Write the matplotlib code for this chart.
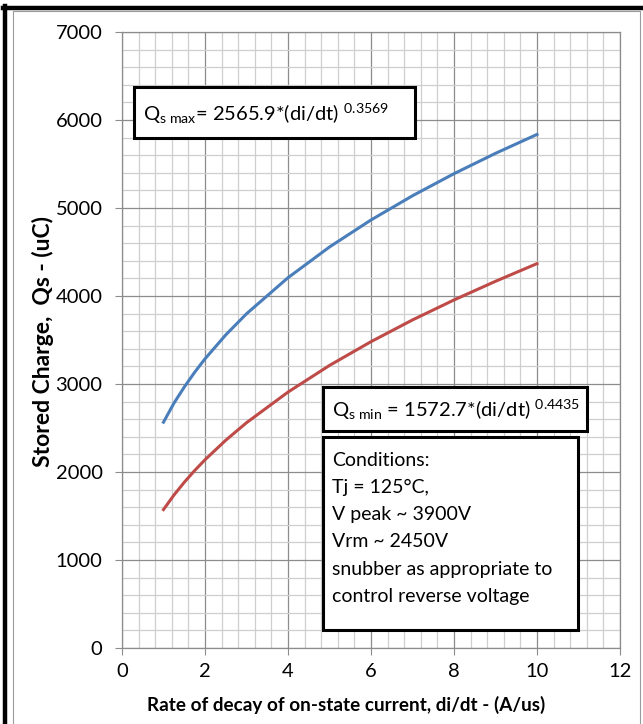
import matplotlib.pyplot as plt
from matplotlib.lines import Line2D
from matplotlib.patches import Rectangle
from matplotlib.ticker import MultipleLocator

plt.rcParams['font.family'] = ['Lato', 'DejaVu Sans']
plt.rcParams['mathtext.fontset'] = 'custom'
plt.rcParams['mathtext.rm'] = 'Lato'
plt.rcParams['mathtext.it'] = 'Lato'

# values
di_dt = [1, 1.25, 1.5, 1.75, 2, 2.5, 3, 4, 5, 6, 7, 8, 9, 10]
qs_max = [2566, 2781, 2965, 3133, 3286, 3558, 3798, 4208, 4557, 4864, 5139, 5390, 5621, 5836]
qs_min = [1573, 1737, 1883, 2016, 2139, 2361, 2560, 2908, 3211, 3481, 3728, 3955, 4167, 4368]

eq_max = r'Q$_{\mathrm{s\ max}}$= 2565.9*(di/dt) $^{0.3569}$'
eq_min = r'Q$_{\mathrm{s\ min}}$ = 1572.7*(di/dt) $^{0.4435}$'
conditions = ["Conditions:", "Tj = 125°C,", "V peak ~ 3900V", "Vrm ~ 2450V",
              "snubber as appropriate to", "control reverse voltage"]

fig = plt.figure(figsize=(6.43, 7.24), dpi=100)
W, H = 643, 724

# outer frame of the picture
fig.add_artist(Rectangle((13 / W, -0.05), (640 - 13) / W, 1.05 - 11 / H,
                         transform=fig.transFigure, fill=False,
                         edgecolor='#9a9a9a', lw=0.8))
fig.add_artist(Line2D([5 / W, 5 / W], [0, 1 - 6 / H], transform=fig.transFigure,
                      color='black', lw=3.2))
fig.add_artist(Line2D([3 / W, 1], [1 - 8 / H, 1 - 8 / H], transform=fig.transFigure,
                      color='black', lw=3.2))

ax = fig.add_axes([122 / W, 1 - 648 / H, (620 - 122) / W, (648 - 32) / H])

ax.plot(di_dt, qs_max, color='#4A7EBB', lw=2.2, zorder=3)
ax.plot(di_dt, qs_min, color='#BE4B48', lw=2.2, zorder=3)

ax.set_xlim(0, 12)
ax.set_ylim(0, 7000)
ax.xaxis.set_major_locator(MultipleLocator(2))
ax.xaxis.set_minor_locator(MultipleLocator(0.4))
ax.yaxis.set_major_locator(MultipleLocator(1000))
ax.yaxis.set_minor_locator(MultipleLocator(200))
ax.grid(which='major', color='#8c8c8c', lw=0.9)
ax.grid(which='minor', color='#cfcfcf', lw=0.9)
ax.set_axisbelow(True)
for s in ax.spines.values():
    s.set_color('#8c8c8c')
    s.set_linewidth(0.9)
ax.tick_params(which='major', length=5, color='#8c8c8c', labelsize=14.5)
ax.tick_params(which='minor', length=0)
ax.tick_params(axis='y', pad=9)
ax.tick_params(axis='x', pad=6)

ax.set_xlabel('Rate of decay of on-state current, di/dt - (A/us)',
              fontsize=13.6, fontweight='bold')
ax.set_ylabel('Stored Charge,  Qs - (uC)', fontsize=16.5, fontweight='bold')
ax.xaxis.set_label_coords(0.45, -0.092)
ax.yaxis.set_label_coords(-0.158, 0.497)
ax.xaxis.label.set_va('center')
ax.yaxis.label.set_va('center')

# equation and condition boxes
for (x0, y0, x1, y1) in [(0.024, 0.828, 0.588, 0.911),
                         (0.404, 0.352, 0.933, 0.424),
                         (0.404, 0.029, 0.915, 0.343)]:
    ax.add_patch(Rectangle((x0, y0), x1 - x0, y1 - y0, transform=ax.transAxes,
                           facecolor='white', edgecolor='black', lw=2.2,
                           zorder=4, clip_on=False))

ax.text(0.042, 0.867, eq_max, transform=ax.transAxes, fontsize=14.5,
        va='center', ha='left', zorder=5)
ax.text(0.422, 0.386, eq_min, transform=ax.transAxes, fontsize=14.5,
        va='center', ha='left', zorder=5)
ax.text(0.422, 0.318, '\n'.join(conditions), transform=ax.transAxes,
        fontsize=14, va='top', ha='left', linespacing=1.72, zorder=5)

fig.savefig('out.png', dpi=100)
